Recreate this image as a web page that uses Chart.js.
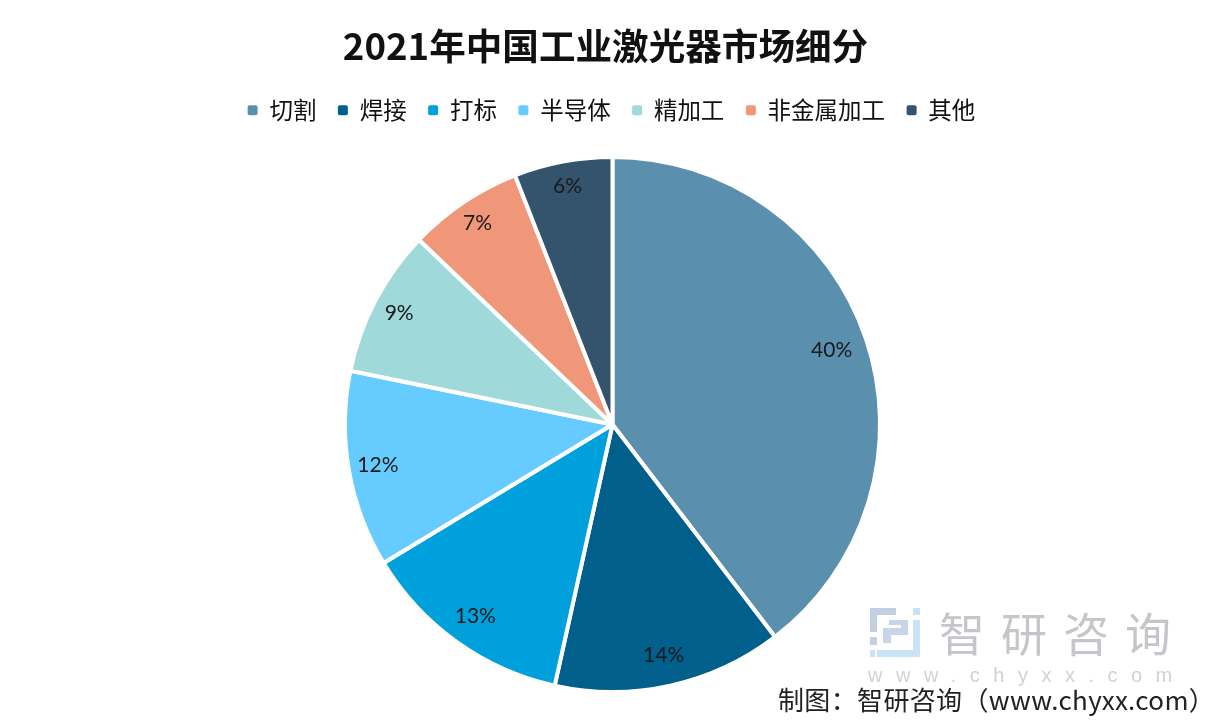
<!DOCTYPE html>
<html>
<head>
<meta charset="utf-8">
<script src="https://cdn.jsdelivr.net/npm/chart.js@4"></script>
<style>
  html, body { margin: 0; padding: 0; background: #fff; overflow: hidden; }
  #wrap { position: relative; width: 1212px; height: 728px; }
  .cjk { font-family: "Noto Sans CJK SC", sans-serif; position: absolute; white-space: nowrap; }
  #wmName { left: 939px; top: 601px; font-size: 46px; line-height: 60px; letter-spacing: 16px; color: #c4c6ca; }
  #wmUrl { left: 868px; top: 662px; font-size: 20px; line-height: 26px; letter-spacing: 13.5px; color: #d0d2d6; font-family: "Liberation Sans", sans-serif; }
  #source { left: 778px; top: 681px; font-size: 26px; line-height: 36px; letter-spacing: 0.35px; color: #222; }
  #logo { position: absolute; left: 869px; top: 607px; }
</style>
</head>
<body>
<div id="wrap">
  <canvas id="pieChart" width="1212" height="728"></canvas>
  <svg id="logo" width="52" height="52" viewBox="0 0 52 52">
    <path d="M1 1H27V8H8V25H1Z M1 30H8V38H1Z" fill="#c3d0e2"/>
    <rect x="44" y="1" width="7" height="7" fill="#c5e2f6"/>
    <path d="M20 13H39V28H22V36H14V21H32V18H20Z" fill="#c8d5e6"/>
    <path d="M44 13H51V50H8V43H44Z" fill="#c8e2f6"/>
    <rect x="1" y="43" width="5" height="7" fill="#c8e2f6"/>
  </svg>
  <div id="wmName" class="cjk">智研咨询</div>
  <div id="wmUrl" class="cjk">www.chyxx.com</div>
  <div id="source" class="cjk">制图：智研咨询（www.chyxx.com）</div>
</div>
<script>
const categories = ['切割', '焊接', '打标', '半导体', '精加工', '非金属加工', '其他'];
const shares = [40, 14, 13, 12, 9, 7, 6];
const sliceColors = ['#5b8fae', '#005f8b', '#00a0dc', '#66ccff', '#a0d9d9', '#f0977a', '#34546e'];
const labelRadius = [0.865, 0.885, 0.88, 0.89, 0.9, 0.905, 0.905];
const chartTitle = '2021年中国工业激光器市场细分';

const fontName = '"Noto Sans CJK SC", sans-serif';

// 조각 위에 퍼센트 라벨 그리기
const sliceLabels = {
  id: 'sliceLabels',
  afterDatasetsDraw: function (chart) {
    const ctx = chart.ctx;
    ctx.save();
    ctx.font = '21px Lato, sans-serif';
    ctx.fillStyle = '#1a1a1a';
    ctx.textAlign = 'center';
    ctx.textBaseline = 'middle';
    chart.getDatasetMeta(0).data.forEach((arc, i) => {
      const angle = (arc.startAngle + arc.endAngle) / 2;
      const r = arc.outerRadius * labelRadius[i];
      ctx.fillText(shares[i] + '%', arc.x + Math.cos(angle) * r, arc.y + Math.sin(angle) * r);
    });
    ctx.restore();
  },
};

// 범례 높이 고정, 제목과 범례는 왼쪽으로 조금 이동
const headerFit = {
  id: 'headerFit',
  beforeLayout: function (chart) {
    const legend = chart.legend;
    if (!legend || legend._fitPatched) return;
    const fit = legend.fit;
    legend.fit = function () {
      fit.call(this);
      this.height = 78;
    };
    legend._fitPatched = true;
  },
  afterLayout: function (chart) {
    chart.titleBlock.left -= 7;
    chart.titleBlock.right -= 7;
    chart.legend.left -= 1;
    chart.legend.right -= 1;
  },
};

new Chart(document.getElementById('pieChart'), {
  type: 'pie',
  data: {
    labels: categories,
    datasets: [{
      data: shares,
      backgroundColor: sliceColors,
      borderColor: '#ffffff',
      borderWidth: 4,
    }],
  },
  options: {
    responsive: false,
    animation: false,
    layout: { padding: { left: 13, right: 0, top: 0, bottom: 34 } },
    plugins: {
      title: {
        display: true,
        text: chartTitle,
        color: '#111111',
        font: { family: fontName, size: 36.6, weight: 'bold' },
        padding: { top: 24, bottom: 9 },
      },
      legend: {
        position: 'top',
        labels: {
          color: '#111111',
          font: { family: fontName, size: 23.5 },
          boxWidth: 10,
          boxHeight: 10,
          padding: 21.5,
          generateLabels: function (chart) {
            return Chart.overrides.pie.plugins.legend.labels.generateLabels(chart).map((item) => ({
              ...item,
              lineWidth: 0,
              borderRadius: 2,
            }));
          },
          useBorderRadius: true,
        },
      },
      tooltip: { enabled: false },
    },
  },
  plugins: [sliceLabels, headerFit],
});
</script>
</body>
</html>
